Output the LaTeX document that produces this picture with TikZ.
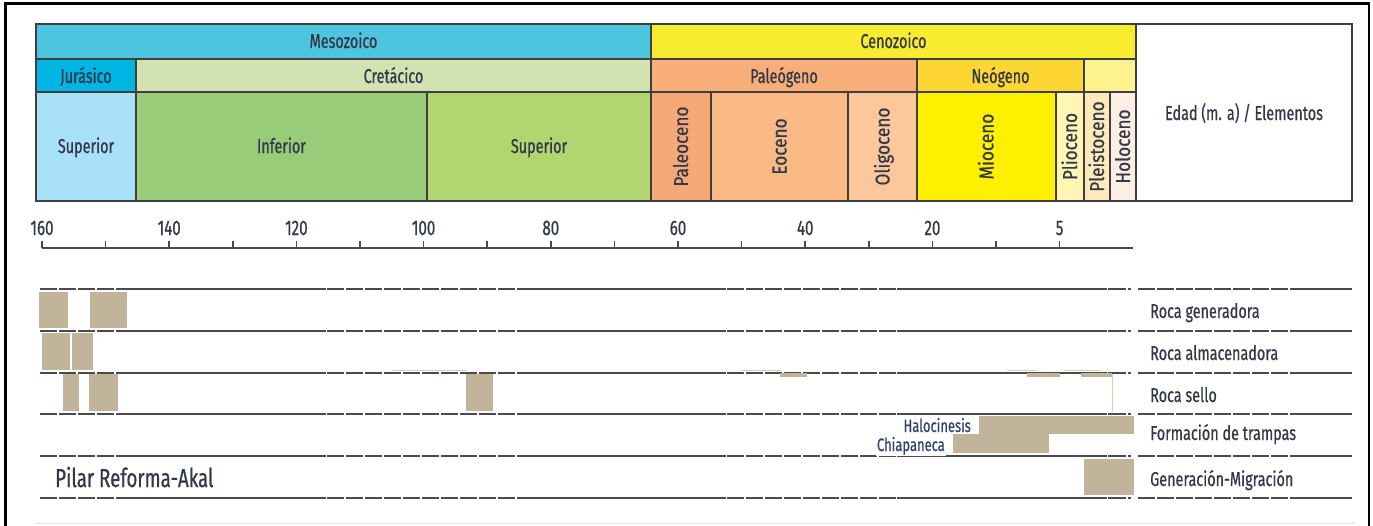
\documentclass[tikz,border=0pt]{standalone}
\usepackage{fontspec}
\setmainfont{Fira Sans}[FakeStretch=0.72,FakeBold=0.6]
\newfontfamily\vfont{Fira Sans}[FakeStretch=0.86,FakeBold=0.6]
\definecolor{txt}{HTML}{33374A}
\definecolor{txtblue}{HTML}{2E4270}
\definecolor{cellline}{HTML}{3F3F3F}
\definecolor{rowline}{HTML}{4A4A4A}
\definecolor{tanbar}{HTML}{C1B49A}
\definecolor{tanthin}{HTML}{D8CDB8}
\definecolor{cMeso}{HTML}{4EC5DF}
\definecolor{cCeno}{HTML}{F8EC30}
\definecolor{cJura}{HTML}{00B4E4}
\definecolor{cCret}{HTML}{D0E3B1}
\definecolor{cPaleog}{HTML}{F7AE78}
\definecolor{cNeog}{HTML}{FDD633}
\definecolor{cQuat}{HTML}{FEF28F}
\definecolor{cJsup}{HTML}{A9E1F9}
\definecolor{cKinf}{HTML}{98CC78}
\definecolor{cKsup}{HTML}{B1D56F}
\definecolor{cPaleoc}{HTML}{F6A877}
\definecolor{cEoc}{HTML}{F9BA85}
\definecolor{cOlig}{HTML}{FCC79A}
\definecolor{cMioc}{HTML}{FFF000}
\definecolor{cPlio}{HTML}{FFF6B3}
\definecolor{cPleis}{HTML}{FEE9B9}
\definecolor{cHolo}{HTML}{FDEEE3}
\begin{document}
\begin{tikzpicture}[x=1pt,y=-1pt,
  cell/.style={draw=cellline, line width=1.4pt},
  lbl/.style={text=txt, font=\fontsize{20}{24}\selectfont, inner sep=0pt, anchor=base},
  vlbl/.style={text=txt, font=\vfont\fontsize{20}{24}\selectfont, inner sep=0pt, anchor=base, rotate=90},
  axlbl/.style={text=txt, font=\fontsize{21}{24}\selectfont, inner sep=0pt, anchor=base},
  elem/.style={text=txt, font=\fontsize{20}{24}\selectfont, inner sep=0pt, anchor=base west},
  trap/.style={text=txtblue, font=\fontsize{18}{22}\selectfont, inner sep=1pt, anchor=base east, fill=white},
  bar/.style={fill=tanbar, draw=none},
  thintan/.style={draw=tanthin, line width=1pt},
  rowdash/.style={draw=rowline, line width=2pt, dash pattern=on 17pt off 2pt},
  rowsolid/.style={draw=rowline, line width=2pt},
  axisline/.style={draw=rowline, line width=1.5pt}
]
\useasboundingbox (0,0) rectangle (1373,525);
% outer frame
\draw[black, line width=2.5pt] (5.5,530) -- (5.5,3.5) -- (1369,3.5) -- (1369,530);
\draw[black!12, line width=1pt] (35,523) -- (1355,523);

% header row 1
\draw[cell, fill=cMeso] (36,24) rectangle (651,59);
\draw[cell, fill=cCeno] (651,24) rectangle (1136,59);
\draw[cell, fill=white] (1136,24) rectangle (1352,201);
% header row 2
\draw[cell, fill=cJura] (36,59) rectangle (136,92);
\draw[cell, fill=cCret] (136,59) rectangle (651,92);
\draw[cell, fill=cPaleog] (651,59) rectangle (917,92);
\draw[cell, fill=cNeog] (917,59) rectangle (1084,92);
\draw[cell, fill=cQuat] (1084,59) rectangle (1136,92);
% header row 3
\draw[cell, fill=cJsup] (36,92) rectangle (136,201);
\draw[cell, fill=cKinf] (136,92) rectangle (427,201);
\draw[cell, fill=cKsup] (427,92) rectangle (651,201);
\draw[cell, fill=cPaleoc] (651,92) rectangle (711,201);
\draw[cell, fill=cEoc] (711,92) rectangle (848,201);
\draw[cell, fill=cOlig] (848,92) rectangle (917,201);
\draw[cell, fill=cMioc] (917,92) rectangle (1056,201);
\draw[cell, fill=cPlio] (1056,92) rectangle (1084,201);
\draw[cell, fill=cPleis] (1084,92) rectangle (1110,201);
\draw[cell, fill=cHolo] (1110,92) rectangle (1136,201);

% header labels
\node[lbl] (meso) at (343.5,48) {Mesozoico};
\node[lbl] (ceno) at (893.5,48) {Cenozoico};
\node[lbl] (jura) at (86,83) {Jurásico};
\node[lbl] (cret) at (393.5,83) {Cretácico};
\node[lbl] (paleog) at (784,83) {Paleógeno};
\node[lbl] (neog) at (1000.5,83) {Neógeno};
\node[lbl] (jsup) at (86,153) {Superior};
\node[lbl] (kinf) at (281.5,153) {Inferior};
\node[lbl] (ksup) at (539,153) {Superior};
\node[lbl] (edad) at (1244,120) {Edad (m. a) / Elementos};
\node[vlbl] (paleoc) at (688,146.5) {Paleoceno};
\node[vlbl] (eoc) at (786.5,146.5) {Eoceno};
\node[vlbl] (olig) at (889.5,146.5) {Oligoceno};
\node[vlbl] (mioc) at (993.5,146.5) {Mioceno};
\node[vlbl] (plio) at (1077,146.5) {Plioceno};
\node[vlbl] (pleis) at (1104,146.5) {Pleistoceno};
\node[vlbl] (holo) at (1130,146.5) {Holoceno};

% axis
\draw[axisline] (42,248) -- (1133,248);
\foreach \i in {0,...,16}{
  \draw[axisline] ({42+\i*63.6},248) -- ({42+\i*63.6},241);
}
\foreach \i/\t in {0/160,2/140,4/120,6/100,8/80,10/60,12/40,14/20,16/5}{
  \node[axlbl] (ax\i) at ({42+\i*63.6},235) {\t};
}

% row lines
\foreach \yy in {289,331,373,414,456,498}{
  \draw[rowdash] (40,\yy) -- (117,\yy);
  \draw[rowsolid] (117,\yy) -- (326,\yy);
  \draw[rowdash] (327,\yy) -- (517,\yy);
  \draw[rowsolid] (517,\yy) -- (726,\yy);
  \draw[rowdash] (727,\yy) -- (897,\yy);
  \draw[rowsolid] (897,\yy) -- (1107,\yy);
  \draw[rowsolid] (1108,\yy) -- (1126,\yy);
  \draw[rowsolid] (1128,\yy) -- (1131,\yy);
  \draw[rowdash] (1138,\yy) -- (1297,\yy);
  \draw[rowsolid] (1297,\yy) -- (1352,\yy);
}

% bars: Roca generadora
\fill[bar] (39,292) rectangle (68,328);
\fill[bar] (90,292) rectangle (127,328);
% Roca almacenadora
\fill[bar] (42,333) rectangle (70,370);
\fill[bar] (72,333) rectangle (93,370);
% Roca sello
\fill[bar] (63,374) rectangle (79,411);
\fill[bar] (89,374) rectangle (118,411);
\fill[bar] (466,374) rectangle (493,411);
\fill[bar] (780,373) rectangle (807,377);
\fill[bar] (1027,373) rectangle (1060,377);
\fill[bar] (1081,373) rectangle (1112,377);
\draw[thintan] (392,370) -- (467,370);
\draw[thintan] (742,370) -- (781,370);
\draw[thintan] (1007,370) -- (1037,370);
\draw[thintan] (1065,370) -- (1100,370);
\draw[thintan] (1112,374) -- (1112,412);
% Formacion de trampas
\fill[bar] (979,416) rectangle (1134,434);
\fill[bar] (953,434) rectangle (1049,453);
\node[trap] (halo) at (972,432) {Halocinesis};
\node[trap] (chia) at (946,451) {Chiapaneca};
% Generacion-Migracion
\fill[bar] (1084,459) rectangle (1134,495);

% element labels
\node[elem] (e1) at (1150,318) {Roca generadora};
\node[elem] (e2) at (1150,360) {Roca almacenadora};
\node[elem] (e3) at (1150,402) {Roca sello};
\node[elem] (e4) at (1150,440) {Formación de trampas};
\node[elem] (e5) at (1150,486) {Generación-Migración};

\node[text=txt, font=\fontsize{26}{30}\selectfont, inner sep=0pt, anchor=base west] (pilar) at (55,487) {Pilar Reforma-Akal};
\end{tikzpicture}
\end{document}
